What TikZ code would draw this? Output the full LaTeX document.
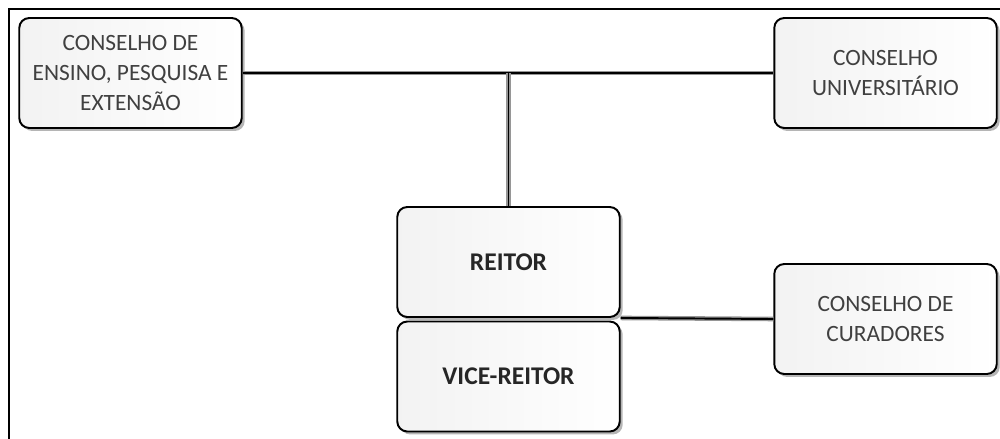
\documentclass[tikz,border=0pt]{standalone}
\usepackage{fontspec}
\setmainfont{Carlito}
\definecolor{Grafit}{RGB}{64, 64, 64}
\definecolor{Umbra}{RGB}{150, 150, 150}
\usetikzlibrary{shadows}

\begin{document}
\begin{tikzpicture}[x=0.02cm, y=-0.02cm,
    every node/.style={font=\fontsize{13.3}{16.8}\selectfont, align=center, text=Grafit},
    cutie/.style={draw=black, line width=1.1pt, rounded corners=0.2cm,
        minimum width=4.45cm, minimum height=2.2cm, inner sep=0pt,
        shading angle=135, left color=gray!10, right color=white,
        drop shadow={shadow xshift=0.06cm, shadow yshift=-0.06cm, fill=Umbra, opacity=0.7}},
    chef/.style={font=\fontsize{14.5}{16}\selectfont\bfseries, text=black!85},
    legatura/.style={line width=1.1pt, preaction={draw=Umbra, line width=2.6pt}}
]
\useasboundingbox (0,0) rectangle (1000,439);
% Chenar
\draw[line width=1.1pt] (1000,9) -- (9,9) -- (9,439);
% Consilii
\node[cutie] (cepe) at (130.5,73) {CONSELHO DE\\ENSINO, PESQUISA E\\EXTENSÃO};
\node[cutie] (cu) at (885.5,73) {CONSELHO\\UNIVERSITÁRIO};
\node[cutie] (cc) at (885.5,319) {CONSELHO DE\\CURADORES};
% Conducere
\node[cutie, chef] (reitor) at (508.5,262) {REITOR};
\node[cutie, chef] (vice) at (508.5,376.5) {VICE-REITOR};
% Legaturi
\draw[legatura] (cepe.east) -- (cu.west);
\draw[legatura] (reitor.north) -- (reitor.north |- cepe.east);
\draw[legatura] (reitor.south east) -- (cc.west);
\end{tikzpicture}
\end{document}
